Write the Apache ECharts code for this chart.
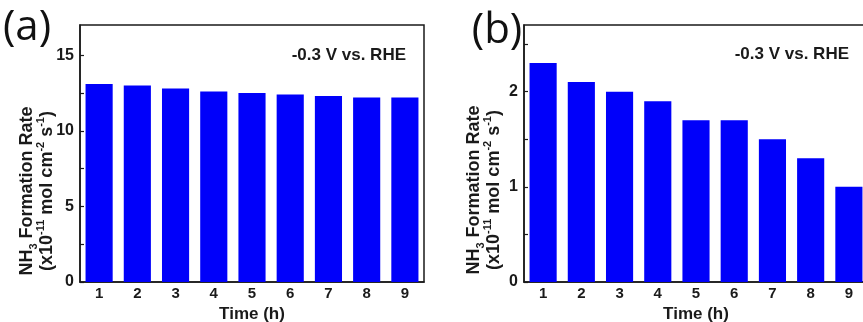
<!DOCTYPE html>
<html>
<head>
<meta charset="utf-8">
<script src="https://cdn.jsdelivr.net/npm/echarts@6/dist/echarts.min.js"></script>
<style>
  html, body { margin: 0; padding: 0; background: #fff; }
  #main { width: 863px; height: 322px; }
</style>
</head>
<body>
<div id="main"></div>
<script>
var chart = echarts.init(document.getElementById('main'));

var hours = ['1', '2', '3', '4', '5', '6', '7', '8', '9'];
var rateA = [13.1, 13.0, 12.8, 12.6, 12.5, 12.4, 12.3, 12.2, 12.2];
var rateB = [2.3, 2.1, 2.0, 1.9, 1.7, 1.7, 1.5, 1.3, 1.0];
var yTicksA = [0, 5, 10, 15];
var yTicksB = [0, 1, 2];

var ink = '#1a1a1a';
var font = 'Liberation Sans, Arial, sans-serif';

function xAxisCfg(gridIndex, gap) {
    return {
        type: 'category',
        gridIndex: gridIndex,
        data: hours,
        name: 'Time (h)',
        nameLocation: 'middle',
        nameGap: gap,
        nameTextStyle: { color: ink, fontSize: 17, fontWeight: 'bold', fontFamily: font },
        axisLine: { lineStyle: { color: ink, width: 1.5 } },
        axisTick: { show: false },
        axisLabel: { color: ink, fontSize: 15, fontWeight: 'bold', fontFamily: font, margin: 4 }
    };
}

function yAxisCfg(gridIndex, max, step, labels) {
    return {
        type: 'value',
        gridIndex: gridIndex,
        min: 0,
        max: max,
        interval: step,
        axisLine: { show: true, lineStyle: { color: ink, width: 1.5 } },
        axisTick: { show: true, inside: true, length: 4, lineStyle: { color: ink, width: 1.2 } },
        splitLine: { show: false },
        axisLabel: {
            color: ink, fontSize: 16, fontWeight: 'bold', fontFamily: font, margin: 6,
            showMaxLabel: false,
            formatter: function (v) {
                for (var i = 0; i < labels.length; i++) {
                    if (Math.abs(labels[i] - v) < 1e-6) return String(labels[i]);
                }
                return '';
            }
        }
    };
}

function barSeries(idx, data) {
    return {
        type: 'bar',
        xAxisIndex: idx,
        yAxisIndex: idx,
        data: data,
        barCategoryGap: '29%',
        itemStyle: { color: '#0000fa' }
    };
}

var rich = {
    b: { fontSize: 18, fontWeight: 'bold', fontFamily: font, fill: ink, lineHeight: 24 },
    sub: { fontSize: 11, fontWeight: 'bold', fontFamily: font, fill: ink, lineHeight: 11, verticalAlign: 'bottom' },
    sup: { fontSize: 11, fontWeight: 'bold', fontFamily: font, fill: ink, lineHeight: 11, verticalAlign: 'top' }
};

function yName(x1, x2, y) {
    return [
        {
            type: 'text', x: x1, y: y, rotation: Math.PI / 2,
            style: {
                text: '{b|NH}{sub|3}{b| Formation Rate}',
                rich: rich, align: 'center', verticalAlign: 'middle'
            }
        },
        {
            type: 'text', x: x2, y: y, rotation: Math.PI / 2,
            style: {
                text: '{b|(x10}{sup|-11}{b| mol cm}{sup|-2}{b| s}{sup|-1}{b|)}',
                rich: rich, align: 'center', verticalAlign: 'middle'
            }
        }
    ];
}

function note(x, y) {
    return {
        type: 'text', x: x, y: y,
        style: {
            text: '-0.3 V vs. RHE', fill: ink,
            font: 'bold 17px ' + font, align: 'right', verticalAlign: 'middle'
        }
    };
}

function panel(text, x, y) {
    return {
        type: 'text', x: x, y: y,
        style: {
            text: text, fill: '#111',
            font: '42px "Open Sans", "DejaVu Sans", sans-serif', align: 'center', verticalAlign: 'middle'
        }
    };
}

var gridBase = { top: 25, width: 344, height: 257, show: true, borderColor: ink, borderWidth: 1.5, outerBoundsMode: 'none' };

var option = {
    backgroundColor: '#fff',
    animation: false,
    grid: [
        Object.assign({ left: 80 }, gridBase),
        Object.assign({ left: 524 }, gridBase)
    ],
    xAxis: [xAxisCfg(0, 18), xAxisCfg(1, 21)],
    yAxis: [yAxisCfg(0, 17, 2.5, yTicksA), yAxisCfg(1, 2.7, 0.5, yTicksB)],
    series: [barSeries(0, rateA), barSeries(1, rateB)],
    graphic: [
        panel('(a)', 27, 28),
        panel('(b)', 497, 31),
        note(406, 55),
        note(849, 54)
    ].concat(yName(27, 47, 191)).concat(yName(474, 494, 190))
};

chart.setOption(option);
</script>
</body>
</html>
